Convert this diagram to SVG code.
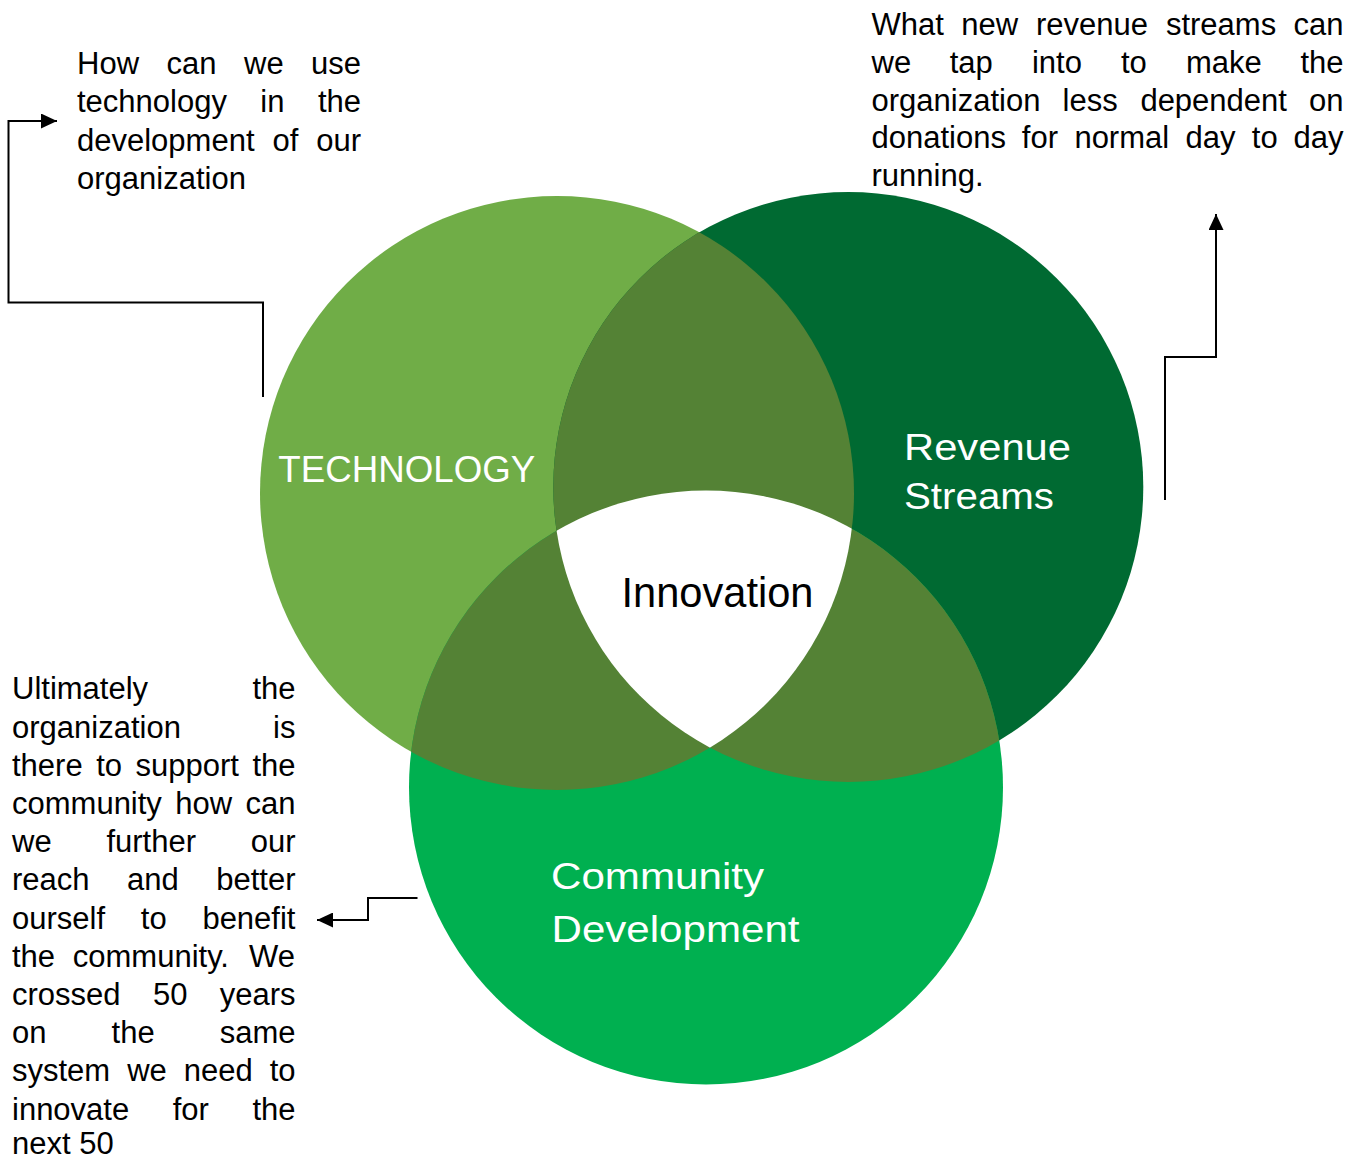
<svg xmlns="http://www.w3.org/2000/svg" width="1360" height="1161" viewBox="0 0 1360 1161">
<style>
.note{font-family:"Liberation Sans",Arial,sans-serif;font-size:31px;fill:#000}
.lbl{font-family:"Liberation Sans",Arial,sans-serif;fill:#fff}
.conn{fill:none;stroke:#000;stroke-width:2}
</style>
<defs>
<clipPath id="clipTech"><circle cx="557" cy="493" r="297"/></clipPath>
<clipPath id="clipRev"><circle cx="848.3" cy="487" r="295"/></clipPath>
<marker id="arrow" markerUnits="userSpaceOnUse" markerWidth="16" markerHeight="15" refX="16" refY="7.5" orient="auto" viewBox="0 0 16 15">
<path d="M0,0 L16,7.5 L0,15 z" fill="#000"/>
</marker>
</defs>
<rect width="1360" height="1161" fill="#fff"/>
<g id="node-technology">
<circle cx="557" cy="493" r="297" fill="#70AD47"/>
<text class="lbl" x="278.3" y="482" font-size="37" textLength="257" lengthAdjust="spacingAndGlyphs">TECHNOLOGY</text>
</g>
<g id="node-revenue">
<circle cx="848.3" cy="487" r="295" fill="#006A32"/>
<text class="lbl" font-size="37"><tspan x="904" y="459.5" textLength="167" lengthAdjust="spacingAndGlyphs">Revenue</tspan><tspan x="904" y="508.5" textLength="150" lengthAdjust="spacingAndGlyphs">Streams</tspan></text>
</g>
<g id="node-community">
<circle cx="706" cy="787.5" r="297" fill="#00B050"/>
<text class="lbl" font-size="37.5"><tspan x="551" y="888.5" textLength="213" lengthAdjust="spacingAndGlyphs">Community</tspan><tspan x="551.5" y="941.5" textLength="248" lengthAdjust="spacingAndGlyphs">Development</tspan></text>
</g>
<g id="overlaps">
<g clip-path="url(#clipTech)">
<circle cx="848.3" cy="487" r="295" fill="#548235"/>
<circle cx="706" cy="787.5" r="297" fill="#548235"/>
</g>
<g clip-path="url(#clipRev)">
<circle cx="706" cy="787.5" r="297" fill="#548235"/>
</g>
<g clip-path="url(#clipTech)"><g clip-path="url(#clipRev)">
<circle cx="706" cy="787.5" r="297" fill="#fff"/>
</g></g>
</g>
<g id="node-innovation">
<text x="621.5" y="607" font-family="Liberation Sans, Arial, sans-serif" font-size="42.5" fill="#000" textLength="192" lengthAdjust="spacingAndGlyphs">Innovation</text>
</g>
<g id="note-technology">
<text class="note">
<tspan x="77" y="73.5">How</tspan><tspan x="166.5" y="73.5">can</tspan><tspan x="244" y="73.5">we</tspan><tspan x="311" y="73.5">use</tspan>
<tspan x="77" y="112">technology</tspan><tspan x="260.3" y="112">in</tspan><tspan x="317.9" y="112">the</tspan>
<tspan x="77" y="150.5">development</tspan><tspan x="272.4" y="150.5">of</tspan><tspan x="316.2" y="150.5">our</tspan>
<tspan x="77" y="189">organization</tspan>
</text>
</g>
<g id="note-revenue">
<text class="note">
<tspan x="871.5" y="35">What</tspan><tspan x="961.3" y="35">new</tspan><tspan x="1036" y="35">revenue</tspan><tspan x="1165.9" y="35">streams</tspan><tspan x="1293.5" y="35">can</tspan>
<tspan x="871.5" y="72.8">we</tspan><tspan x="949.7" y="72.8">tap</tspan><tspan x="1031.9" y="72.8">into</tspan><tspan x="1121" y="72.8">to</tspan><tspan x="1185.9" y="72.8">make</tspan><tspan x="1300.4" y="72.8">the</tspan>
<tspan x="871.5" y="110.6">organization</tspan><tspan x="1062.6" y="110.6">less</tspan><tspan x="1140.4" y="110.6">dependent</tspan><tspan x="1309" y="110.6">on</tspan>
<tspan x="871.5" y="148.4">donations</tspan><tspan x="1021.8" y="148.4">for</tspan><tspan x="1074.4" y="148.4">normal</tspan><tspan x="1185.5" y="148.4">day</tspan><tspan x="1251.8" y="148.4">to</tspan><tspan x="1293.5" y="148.4">day</tspan>
<tspan x="871.5" y="186.2">running.</tspan>
</text>
</g>
<g id="note-community">
<text class="note">
<tspan x="12" y="699.3">Ultimately</tspan><tspan x="252.4" y="699.3">the</tspan>
<tspan x="12" y="737.5">organization</tspan><tspan x="273.1" y="737.5">is</tspan>
<tspan x="12" y="775.7">there</tspan><tspan x="96.2" y="775.7">to</tspan><tspan x="135.5" y="775.7">support</tspan><tspan x="252.4" y="775.7">the</tspan>
<tspan x="12" y="813.9">community</tspan><tspan x="175.3" y="813.9">how</tspan><tspan x="245.5" y="813.9">can</tspan>
<tspan x="12" y="852.1">we</tspan><tspan x="106.4" y="852.1">further</tspan><tspan x="250.7" y="852.1">our</tspan>
<tspan x="12" y="890.3">reach</tspan><tspan x="127" y="890.3">and</tspan><tspan x="216.2" y="890.3">better</tspan>
<tspan x="12" y="928.5">ourself</tspan><tspan x="140.8" y="928.5">to</tspan><tspan x="202.4" y="928.5">benefit</tspan>
<tspan x="12" y="966.7">the</tspan><tspan x="72.8" y="966.7">community.</tspan><tspan x="249" y="966.7">We</tspan>
<tspan x="12" y="1004.9">crossed</tspan><tspan x="152.9" y="1004.9">50</tspan><tspan x="219.7" y="1004.9">years</tspan>
<tspan x="12" y="1043.1">on</tspan><tspan x="111.6" y="1043.1">the</tspan><tspan x="219.7" y="1043.1">same</tspan>
<tspan x="12" y="1081.3">system</tspan><tspan x="127.2" y="1081.3">we</tspan><tspan x="183.8" y="1081.3">need</tspan><tspan x="269.7" y="1081.3">to</tspan>
<tspan x="12" y="1119.5">innovate</tspan><tspan x="172.7" y="1119.5">for</tspan><tspan x="252.4" y="1119.5">the</tspan>
<tspan x="12" y="1154">next 50</tspan>
</text>
</g>
<g id="connectors">
<polyline class="conn" points="263,397 263,302.5 8.5,302.5 8.5,121 57,121" marker-end="url(#arrow)"/>
<polyline class="conn" points="1165,500 1165,357 1216,357 1216,214" marker-end="url(#arrow)"/>
<polyline class="conn" points="417.5,898 368,898 368,920 317,920" marker-end="url(#arrow)"/>
</g>
</svg>
